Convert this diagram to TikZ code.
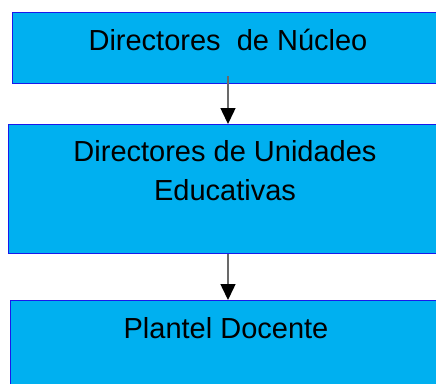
\documentclass[tikz,border=0pt]{standalone}
\usepackage{fontspec}
\setmainfont{Liberation Sans}
\usetikzlibrary{arrows.meta,positioning}
\definecolor{boxcyan}{RGB}{0,176,240}
\definecolor{boxline}{RGB}{25,25,235}
\definecolor{linkgray}{RGB}{105,105,105}

\tikzset{
  orgbox/.style={draw=boxline, line width=1pt, fill=boxcyan, rectangle,
    inner sep=0pt, anchor=north west, minimum width=470pt},
  orgtext/.style={anchor=base, inner sep=0pt, align=center,
    font=\fontsize{29}{39}\selectfont},
  link/.style={draw=linkgray, line width=1.5pt,
    -{Triangle[length=16pt,width=15pt,color=black]}}
}

\begin{document}
\begin{tikzpicture}[x=1pt,y=-1pt]
\useasboundingbox (0,0) rectangle (436,383);
\clip (0,0) rectangle (436,383);

% boxes
\node[orgbox, minimum height=71pt] (nucleo) at (12,12) {};
\node[orgbox, minimum height=129pt] (unidades) at (8,124) {};
\node[orgbox, minimum height=100pt] (plantel) at (10,300) {};

% labels (base = last line)
\node[orgtext] (nucleo text) at (228,50) {Directores~ de Núcleo};
\node[orgtext] (unidades text) at (225,200.7) {Directores de Unidades\\Educativas};
\node[orgtext] (plantel text) at (226,338.3) {Plantel Docente};

% arrows
\coordinate (nucleo out) at (228,76);
\draw[link] (nucleo out) -- (nucleo out |- unidades.north);
\draw[link] (nucleo out |- unidades.south) -- (nucleo out |- plantel.north);
\end{tikzpicture}
\end{document}
